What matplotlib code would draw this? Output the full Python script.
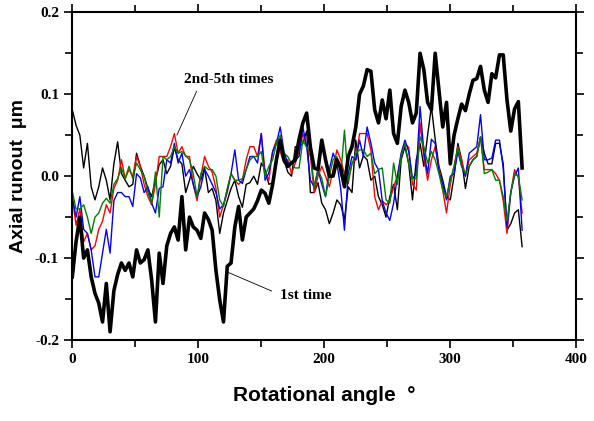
import numpy as np
import matplotlib
matplotlib.use("Agg")
import matplotlib.pyplot as plt
from matplotlib.ticker import MultipleLocator, FormatStrFormatter

# rotational angle, every 3 degrees
angle = np.arange(0, 360, 3)

first_time = [
    -0.123, -0.080, -0.050, -0.100, -0.090, -0.123, -0.143, -0.155, -0.178, -0.131,
    -0.190, -0.140, -0.120, -0.106, -0.115, -0.106, -0.123, -0.090, -0.106, -0.102,
    -0.090, -0.127, -0.178, -0.094, -0.131, -0.085, -0.070, -0.062, -0.078, -0.025,
    -0.090, -0.050, -0.062, -0.066, -0.076, -0.045, -0.053, -0.066, -0.115, -0.151,
    -0.178, -0.110, -0.106, -0.062, -0.037, -0.078, -0.050, -0.045, -0.040, -0.030,
    -0.017, -0.021, -0.033, -0.010, 0.020, 0.044, 0.020, 0.012, 0.016, 0.020,
    0.045, 0.065, 0.077, 0.035, 0.010, 0.008, 0.044, 0.020, 0.000, 0.000,
    0.020, 0.010, -0.013, 0.024, 0.036, 0.060, 0.100, 0.110, 0.130, 0.128,
    0.081, 0.065, 0.093, 0.070, 0.105, 0.052, 0.040, 0.085, 0.105, 0.090,
    0.065, 0.077, 0.150, 0.130, 0.090, 0.081, 0.150, 0.105, 0.060, 0.090,
    0.015, 0.050, 0.070, 0.088, 0.080, 0.100, 0.117, 0.119, 0.134, 0.105,
    0.090, 0.125, 0.120, 0.148, 0.148, 0.093, 0.055, 0.082, 0.091, 0.010,
]

thin_black = [
    0.081, 0.062, 0.050, 0.010, 0.040, -0.013, -0.029, -0.013, 0.010, -0.005,
    -0.029, 0.015, 0.042, 0.003, -0.005, -0.013, -0.010, 0.028, 0.012, 0.000,
    -0.015, -0.025, -0.005, 0.014, 0.020, 0.003, 0.012, 0.035, 0.020, 0.015,
    -0.020, -0.005, 0.012, 0.003, -0.005, 0.010, -0.020, -0.015, -0.030, -0.070,
    -0.045, -0.030, -0.015, -0.005, -0.025, -0.038, -0.010, -0.008, 0.000, -0.010,
    0.016, 0.008, -0.010, -0.008, 0.020, 0.044, 0.020, 0.005, 0.000, 0.036,
    0.036, 0.040, 0.055, -0.020, -0.020, -0.008, -0.033, -0.041, -0.058, -0.045,
    -0.029, -0.035, -0.053, -0.013, -0.020, 0.044, 0.010, 0.025, 0.020, -0.005,
    0.000, -0.025, -0.035, -0.050, -0.025, -0.010, -0.041, 0.020, 0.036, 0.015,
    -0.029, 0.020, 0.040, 0.012, 0.050, 0.085, 0.045, 0.012, -0.005, -0.025,
    -0.029, 0.000, 0.040, 0.020, -0.015, 0.012, 0.020, 0.024, 0.048, 0.028,
    0.015, 0.015, 0.040, 0.040, 0.015, -0.066, -0.058, -0.045, -0.041, -0.086,
]

red = [
    -0.025, -0.060, -0.040, -0.080, -0.070, -0.090, -0.085, -0.065, -0.055, -0.035,
    -0.045, -0.015, -0.005, 0.020, -0.003, 0.008, 0.000, 0.024, 0.012, -0.010,
    -0.025, -0.035, -0.010, 0.024, 0.024, 0.024, 0.036, 0.052, 0.028, 0.036,
    0.024, 0.024, -0.010, -0.030, 0.000, 0.024, 0.012, 0.005, -0.015, -0.050,
    -0.035, -0.020, 0.003, -0.005, -0.010, -0.005, 0.020, 0.036, 0.036, 0.024,
    0.052, 0.005, -0.005, 0.030, 0.044, 0.030, 0.016, 0.020, 0.003, 0.016,
    0.030, 0.052, 0.036, 0.024, -0.020, 0.000, 0.012, 0.000, -0.013, 0.008,
    0.032, 0.020, 0.003, -0.009, 0.016, 0.020, 0.052, 0.052, 0.052, 0.032,
    -0.025, -0.041, -0.030, -0.035, -0.030, -0.013, 0.000, 0.024, 0.040, 0.035,
    -0.010, -0.017, 0.065, 0.024, -0.005, 0.020, 0.036, 0.010, -0.017, -0.045,
    -0.010, 0.012, 0.036, 0.020, 0.000, 0.020, 0.024, 0.028, 0.048, 0.008,
    0.008, 0.008, 0.003, -0.005, -0.030, -0.070, -0.020, 0.008, -0.002, -0.045,
]

blue = [
    -0.025, -0.050, -0.025, -0.065, -0.070, -0.090, -0.123, -0.123, -0.094, -0.065,
    -0.094, -0.030, -0.020, -0.020, -0.025, -0.025, -0.037, 0.003, -0.002, -0.020,
    -0.013, -0.033, -0.045, -0.015, -0.013, 0.020, 0.016, 0.040, 0.016, 0.028,
    0.000, 0.008, -0.010, -0.025, -0.013, 0.008, 0.000, -0.010, -0.020, -0.040,
    -0.035, -0.017, 0.003, 0.032, -0.005, -0.009, 0.008, 0.024, 0.024, 0.016,
    0.052, -0.005, 0.004, 0.030, 0.040, 0.060, 0.030, 0.016, 0.016, 0.020,
    0.024, 0.060, 0.036, -0.005, -0.013, 0.008, -0.010, -0.025, 0.008, 0.028,
    0.016, -0.015, -0.066, 0.003, 0.024, 0.020, 0.044, 0.024, 0.060, 0.040,
    0.016, 0.008, -0.030, -0.045, -0.054, -0.033, 0.000, 0.028, 0.044, 0.030,
    -0.003, 0.003, 0.085, 0.030, 0.003, 0.045, 0.040, 0.005, -0.010, -0.029,
    0.000, 0.003, 0.030, 0.012, 0.000, 0.028, 0.032, 0.036, 0.075, 0.020,
    0.020, 0.022, 0.044, 0.044, 0.010, -0.062, -0.020, 0.000, 0.010, -0.066,
]

green = [
    -0.019, -0.040, -0.040, -0.035, -0.050, -0.070, -0.050, -0.045, -0.033, -0.027,
    -0.033, -0.010, -0.003, 0.010, -0.003, 0.012, -0.003, 0.016, 0.008, 0.000,
    -0.020, -0.033, 0.005, -0.050, 0.024, 0.020, 0.024, 0.036, 0.028, 0.030,
    0.025, 0.020, 0.003, -0.025, 0.003, 0.012, 0.008, 0.008, 0.000, -0.029,
    -0.037, -0.015, 0.003, -0.005, -0.005, -0.003, 0.008, 0.020, 0.024, 0.024,
    0.030, 0.000, 0.012, 0.020, 0.040, 0.050, 0.028, 0.024, 0.015, 0.010,
    0.010, 0.044, 0.035, 0.030, -0.013, 0.008, -0.003, -0.025, 0.000, 0.020,
    0.024, 0.000, 0.056, -0.005, 0.015, 0.028, 0.032, 0.032, 0.024, 0.028,
    0.003, 0.008, 0.010, -0.029, -0.033, 0.016, -0.010, 0.024, 0.040, 0.015,
    -0.003, -0.003, 0.048, 0.036, 0.016, 0.030, 0.020, 0.003, -0.017, -0.025,
    -0.005, 0.012, 0.035, 0.012, 0.003, 0.012, 0.020, 0.024, 0.048, 0.003,
    0.005, 0.008, -0.005, -0.005, -0.025, -0.055, -0.020, 0.003, 0.000, -0.029,
]

serif = ["Liberation Serif", "DejaVu Serif"]
sans = ["Liberation Sans", "DejaVu Sans"]

fig = plt.figure(figsize=(5.94, 4.21), dpi=100)
ax = fig.add_axes([0.1217, 0.1924, 0.8485, 0.7784])

ax.plot(angle, thin_black, color="black", lw=1.0)
ax.plot(angle, red, color="#ff0000", lw=1.0)
ax.plot(angle, blue, color="#0000ff", lw=1.0)
ax.plot(angle, green, color="#008000", lw=1.0)
ax.plot(angle, first_time, color="black", lw=2.6)

ax.set_xlim(0, 400)
ax.set_ylim(-0.2, 0.2)
ax.xaxis.set_major_locator(MultipleLocator(100))
ax.xaxis.set_minor_locator(MultipleLocator(50))
ax.yaxis.set_major_locator(MultipleLocator(0.1))
ax.yaxis.set_minor_locator(MultipleLocator(0.05))
ax.yaxis.set_major_formatter(FormatStrFormatter("%.1f"))

ax.tick_params(which="both", direction="out", top=True, right=True, width=1.2)
ax.tick_params(which="major", length=6)
ax.tick_params(which="minor", length=5)
for lab in ax.get_xticklabels() + ax.get_yticklabels():
    lab.set_family(serif)
    lab.set_fontweight("bold")
    lab.set_fontsize(11)
for sp in ax.spines.values():
    sp.set_linewidth(1.5)

ax.set_xlabel("Rotational angle  \u00b0", family=sans, fontweight="bold", fontsize=15, labelpad=14)
ax.set_ylabel("Axial runout  \u03bcm", family=sans, fontweight="bold", fontsize=14, labelpad=6)

ax.annotate("2nd-5th times", xy=(83, 0.05), xytext=(124, 0.118), family=serif,
            fontweight="bold", fontsize=11, ha="center", va="center",
            arrowprops=dict(arrowstyle="-", color="black", lw=0.6, shrinkA=2, shrinkB=0,
                            relpos=(0.17, 0.0)))
ax.annotate("1st time", xy=(123, -0.117), xytext=(185, -0.146), family=serif,
            fontweight="bold", fontsize=11, ha="center", va="center",
            arrowprops=dict(arrowstyle="-", color="black", lw=0.6, shrinkA=4, shrinkB=0,
                            relpos=(0.0, 0.6)))

fig.savefig("out.png", dpi=100)
